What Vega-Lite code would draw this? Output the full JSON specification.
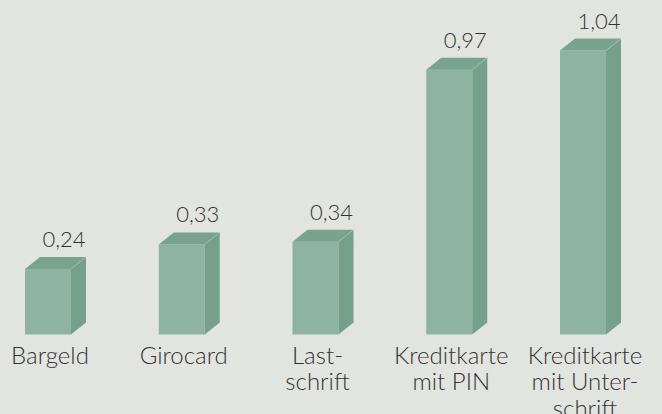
{
  "$schema": "https://vega.github.io/schema/vega-lite/v6.json",
  "width": 581,
  "height": 414,
  "autosize": {"type": "none"},
  "padding": {"left": 25, "right": 56, "top": 0, "bottom": 0},
  "background": "#e2e4e0",
  "config": {
    "view": {"stroke": null},
    "font": "Lato",
    "locale": {"number": {"decimal": ",", "thousands": ".", "grouping": [3], "currency": ["", " €"]}}
  },
  "data": {
    "values": [
      {"zahlungsart": "Bargeld", "kosten": 0.24},
      {"zahlungsart": "Girocard", "kosten": 0.33},
      {"zahlungsart": "Last-\nschrift", "kosten": 0.34},
      {"zahlungsart": "Kreditkarte\nmit PIN", "kosten": 0.97},
      {"zahlungsart": "Kreditkarte\nmit Unter-\nschrift", "kosten": 1.04}
    ]
  },
  "encoding": {
    "x": {
      "field": "zahlungsart",
      "type": "nominal",
      "sort": null,
      "scale": {"paddingInner": 0.6562, "paddingOuter": 0},
      "axis": null
    },
    "y": {
      "field": "kosten",
      "type": "quantitative",
      "scale": {"domain": [-0.2912, 1.2253], "nice": false, "zero": false},
      "axis": null
    }
  },
  "layer": [
    {
      "mark": {"type": "bar", "color": "#8fb3a3"},
      "encoding": {"y2": {"datum": 0}}
    },
    {
      "mark": {"type": "bar", "color": "#77a08c", "width": 15, "xOffset": 30.5, "y2Offset": -12},
      "encoding": {"y2": {"datum": 0}}
    },
    {
      "mark": {"type": "point", "shape": "M23,0.5L23,0L38,-12L38,0.5Z", "size": 4, "filled": true, "opacity": 1, "strokeWidth": 0, "color": "#77a08c"},
      "encoding": {}
    },
    {
      "mark": {"type": "point", "shape": "M23,-12.5L38,-12.5L38,-12L23,0Z", "size": 4, "filled": true, "opacity": 1, "strokeWidth": 0, "color": "#77a08c"},
      "encoding": {"y": {"datum": 0}}
    },
    {
      "mark": {"type": "point", "shape": "M-23,0L-8,-12L38,-12L23,0Z", "size": 4, "filled": true, "opacity": 1, "strokeWidth": 0, "color": "#79a28f"},
      "encoding": {}
    },
    {
      "mark": {"type": "point", "shape": "M23,0L38,-12", "size": 4, "filled": false, "opacity": 1, "strokeWidth": 0.8, "color": "#a3c1b3"},
      "encoding": {}
    },
    {
      "mark": {"type": "text", "align": "center", "baseline": "alphabetic", "dx": 16, "dy": -22, "fontSize": 22, "color": "#333333", "fontWeight": 300},
      "encoding": {"text": {"field": "kosten", "type": "quantitative", "format": ".2f"}}
    },
    {
      "mark": {"type": "text", "align": "center", "baseline": "alphabetic", "dx": 2, "dy": 29, "fontSize": 24, "lineHeight": 26.5, "lineBreak": "\n", "color": "#333333", "fontWeight": 300},
      "encoding": {"y": {"datum": 0}, "text": {"field": "zahlungsart", "type": "nominal"}}
    }
  ]
}
